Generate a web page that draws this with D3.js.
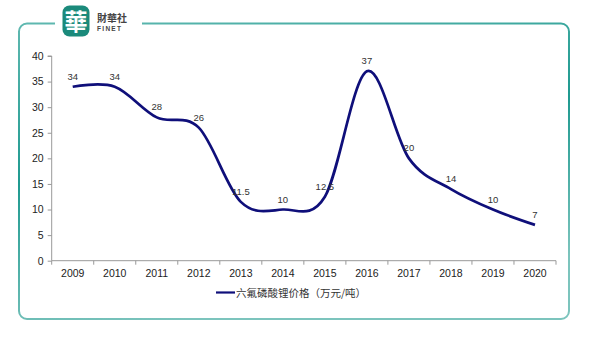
<!DOCTYPE html>
<html><head><meta charset="utf-8">
<script src="https://cdn.jsdelivr.net/npm/d3@7/dist/d3.min.js"></script>
<style>html,body{margin:0;padding:0;background:#fff;}svg{display:block;}</style>
</head><body>
<script>
const years = ["2009","2010","2011","2012","2013","2014","2015","2016","2017","2018","2019","2020"];
const prices = [34, 34, 28, 26, 11.5, 10, 12.5, 37, 20, 14, 10, 7];
const labels = ["34","34","28","26","11.5","10","12.5","37","20","14","10","7"];
const yTicks = [0,5,10,15,20,25,30,35,40];
const seriesName = "六氟磷酸锂价格（万元/吨）";

const W = 590, H = 340;
const svg = d3.select("body").append("svg").attr("width", W).attr("height", H);

// frame gradient
const defs = svg.append("defs");
const g1 = defs.append("linearGradient").attr("id","fr").attr("x1","0").attr("y1","0").attr("x2","0.3").attr("y2","1");
g1.append("stop").attr("offset","0").attr("stop-color","#5fb8b0");
g1.append("stop").attr("offset","0.5").attr("stop-color","#1f9a90");
g1.append("stop").attr("offset","1").attr("stop-color","#7cc4bd");

const fx0 = 19, fy0 = 23.5, fx1 = 569, fy1 = 319, r = 8;
const gapL = 55, gapR = 142;
const p = d3.path();
p.moveTo(gapL, fy0);
p.lineTo(fx0 + r, fy0);
p.arcTo(fx0, fy0, fx0, fy0 + r, r);
p.lineTo(fx0, fy1 - r);
p.arcTo(fx0, fy1, fx0 + r, fy1, r);
p.lineTo(fx1 - r, fy1);
p.arcTo(fx1, fy1, fx1, fy1 - r, r);
p.lineTo(fx1, fy0 + r);
p.arcTo(fx1, fy0, fx1 - r, fy0, r);
p.lineTo(gapR, fy0);
svg.append("path").attr("d", p.toString()).attr("fill","none")
  .attr("stroke","url(#fr)").attr("stroke-width",2);

// logo
const logo = svg.append("g");
logo.append("rect").attr("x",62.5).attr("y",5.5).attr("width",27).attr("height",31)
  .attr("rx",7).attr("fill","#1b8a7b");
logo.append("text").attr("x",76).attr("y",30).attr("text-anchor","middle")
  .attr("font-family","Noto Sans CJK TC").attr("font-size",23).attr("font-weight",700)
  .attr("fill","#fff").text("華");
logo.append("text").attr("x",97).attr("y",22)
  .attr("font-family","Noto Sans CJK TC").attr("font-size",10).attr("font-weight",700)
  .attr("fill","#444").text("財華社");
logo.append("text").attr("x",97).attr("y",31)
  .attr("font-family","Liberation Sans, Arial").attr("font-size",6.5).attr("font-weight",700)
  .attr("fill","#444").attr("letter-spacing",1.3).text("FINET");

// scales
const x0 = 51.7, x1 = 556, yTop = 56, yBot = 260.7;
const x = d3.scaleBand().domain(years).range([x0, x1]).paddingInner(0).paddingOuter(0);
const y = d3.scaleLinear().domain([0, 40]).range([yBot, yTop]);

const font = "Liberation Sans, Arial, sans-serif";

// y axis
const yAxis = svg.append("g").attr("transform", `translate(${x0},0)`)
  .call(d3.axisLeft(y).tickValues(yTicks).tickSize(4).tickPadding(4).tickFormat(d3.format("d")));
yAxis.select(".domain").attr("stroke","#999").attr("d", `M-4,${yTop}H0V${yBot}`);
yAxis.selectAll(".tick line").attr("stroke","#999");
yAxis.selectAll(".tick text").attr("font-family",font).attr("font-size",10.5).attr("fill","#222");

// x axis
const xAxis = svg.append("g").attr("transform", `translate(0,${yBot})`)
  .call(d3.axisBottom(x).tickSize(0).tickPadding(9));
xAxis.select(".domain").attr("stroke","#999").attr("d", `M${x0},0H${x1}`);
xAxis.selectAll(".tick text").attr("font-family",font).attr("font-size",10.5).attr("fill","#222");
const bounds = years.map(d => x(d)).concat([x1]);
xAxis.selectAll(".bt").data(bounds).enter().append("line").attr("class","bt")
  .attr("x1", d => d).attr("x2", d => d).attr("y1", 0).attr("y2", 4).attr("stroke","#999");

// line
const cx = d => x(d) + x.bandwidth() / 2;
const line = d3.line().x((d, i) => cx(years[i])).y(d => y(d)).curve(d3.curveCatmullRom.alpha(0));
svg.append("path").datum(prices).attr("d", line).attr("fill","none")
  .attr("stroke","#0f0f7a").attr("stroke-width",2.7).attr("stroke-linejoin","round");

// data labels
svg.selectAll(".dl").data(prices).enter().append("text").attr("class","dl")
  .attr("x", (d, i) => cx(years[i]))
  .attr("y", d => y(d) - 7)
  .attr("text-anchor","middle").attr("font-family",font).attr("font-size",9.5).attr("fill","#333")
  .text((d, i) => labels[i]);

// legend
const lg = svg.append("g");
lg.append("line").attr("x1",216).attr("x2",235).attr("y1",292.5).attr("y2",292.5)
  .attr("stroke","#0f0f7a").attr("stroke-width",2.2);
lg.append("text").attr("x",236).attr("y",296.5)
  .attr("font-family","Noto Sans CJK SC").attr("font-size",10.5).attr("fill","#333").text(seriesName);
</script>
</body></html>
